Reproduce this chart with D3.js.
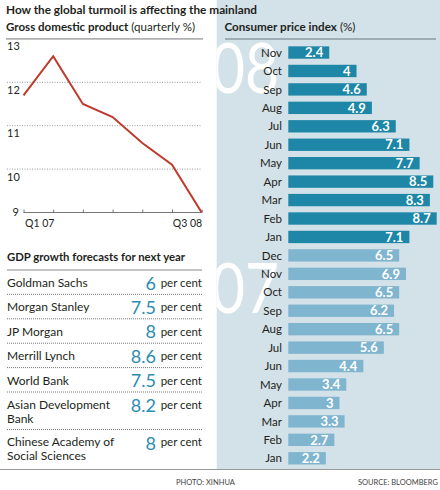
<!DOCTYPE html>
<html><head><meta charset="utf-8">
<script src="https://cdn.jsdelivr.net/npm/d3@7"></script>
<style>
html,body{margin:0;padding:0;background:#fff;}
svg{display:block;font-family:Lato,"Open Sans",sans-serif;}
</style></head>
<body>
<div id="chart"></div>
<script>
// ---------------- DATA ----------------
const gdpQuarters = ["Q1 07","Q2 07","Q3 07","Q4 07","Q1 08","Q2 08","Q3 08"];
const gdpValues   = [11.7, 12.6, 11.5, 11.2, 10.6, 10.1, 9.0];
const gdpTicks    = [9, 10, 11, 12, 13];
const gdpShownQuarterLabels = ["Q1 07","Q3 08"];

const forecastInstitutions = [["Goldman Sachs"],["Morgan Stanley"],["JP Morgan"],["Merrill Lynch"],["World Bank"],["Asian Development","Bank"],["Chinese Academy of","Social Sciences"]];
const forecastValues = [6, 7.5, 8, 8.6, 7.5, 8.2, 8];
const forecastUnit = "per cent";

const cpiMonths = ["Nov","Oct","Sep","Aug","Jul","Jun","May","Apr","Mar","Feb","Jan",
                   "Dec","Nov","Oct","Sep","Aug","Jul","Jun","May","Apr","Mar","Feb","Jan"];
const cpiYears  = ["08","08","08","08","08","08","08","08","08","08","08",
                   "07","07","07","07","07","07","07","07","07","07","07","07"];
const cpiValues = [2.4,4,4.6,4.9,6.3,7.1,7.7,8.5,8.3,8.7,7.1,
                   6.5,6.9,6.5,6.2,6.5,5.6,4.4,3.4,3,3.3,2.7,2.2];

const titleText = "How the global turmoil is affecting the mainland";
const footerLeft = "PHOTO: XINHUA";
const footerRight = "SOURCE: BLOOMBERG";

// ---------------- LAYOUT ----------------
const W = 440, H = 490;
const panelX = 216.7, panelBottom = 469;
const col = {text:"#231f20", grid:"#9a9a9a", panel:"#d3e1e9", dark:"#1e87a7", light:"#80b5d0", red:"#be3a2c", num:"#2a8db0"};

const svg = d3.select("#chart").append("svg").attr("width", W).attr("height", H);

// right panel background
svg.append("rect").attr("x", panelX).attr("y", 0).attr("width", W - panelX).attr("height", panelBottom).attr("fill", col.panel);
svg.append("clipPath").attr("id","pclip").append("rect").attr("x", panelX).attr("y", 0).attr("width", W - panelX).attr("height", panelBottom);

function fitText(sel, w){ // keep measured widths close to reference
  const n = sel.node(); const l = n.getComputedTextLength();
  if (Math.abs(l - w) > 2) sel.attr("textLength", w).attr("lengthAdjust", "spacingAndGlyphs");
}

// title
fitText(svg.append("text").attr("x", 6).attr("y", 13.5).attr("font-size", 12).attr("font-weight", 700).attr("fill", col.text).text(titleText), 251);

// ---------- left: GDP line chart ----------
const sub1 = svg.append("text").attr("x", 6).attr("y", 30.5).attr("font-size", 12).attr("fill", col.text);
sub1.append("tspan").attr("font-weight", 700).text("Gross domestic product");
sub1.append("tspan").text(" (quarterly %)");
fitText(sub1, 189);

const gx = d3.scalePoint().domain(gdpQuarters).range([23.5, 201.7]);
const gy = d3.scaleLinear().domain([9, 13]).range([212.5, 38.9]);

// gridlines
gdpTicks.filter(t => t > 9 && t < 13).forEach(t => {
  svg.append("line").attr("x1", 7).attr("x2", 202).attr("y1", gy(t)).attr("y2", gy(t))
    .attr("stroke", col.grid).attr("stroke-width", 1).attr("stroke-dasharray", "1,1.5");
});
svg.append("line").attr("x1", 6).attr("x2", 203).attr("y1", gy(13)).attr("y2", gy(13))
  .attr("stroke", "#b0b0b0").attr("stroke-width", 1.6);
gdpTicks.forEach(t => {
  if (t === 9) {
    svg.append("text").attr("x", 12.5).attr("y", gy(t)).attr("dy", "0.35em").attr("font-size", 11).attr("fill", col.text).text(t);
  } else {
    svg.append("text").attr("x", 7).attr("y", gy(t) + 11.5).attr("font-size", 11).attr("fill", col.text).text(t);
  }
});
// x axis
const xAxis = d3.axisTop(gx).tickSize(3).tickFormat("");
const xg = svg.append("g").attr("transform", `translate(0,${gy(9)})`).call(xAxis);
xg.select(".domain").attr("d", `M${gx(gdpQuarters[0])},0H${gx(gdpQuarters[gdpQuarters.length-1])}`).attr("stroke", "#777");
xg.selectAll(".tick line").attr("stroke", "#777");
gdpShownQuarterLabels.forEach((q, i) => {
  svg.append("text").attr("x", i === 0 ? gx(q) + 1.5 : gx(q) + 0.5).attr("y", 226.5)
    .attr("text-anchor", i === 0 ? "start" : "end").attr("font-size", 10.5).attr("fill", col.text).text(q);
});
// line
svg.append("path").datum(gdpValues)
  .attr("d", d3.line().x((d, i) => gx(gdpQuarters[i])).y(d => gy(d)))
  .attr("fill", "none").attr("stroke", col.red).attr("stroke-width", 2).attr("stroke-linejoin", "miter");

// ---------- left: forecast table ----------
svg.append("text").attr("x", 7).attr("y", 260.5).attr("font-size", 12).attr("font-weight", 700).attr("fill", col.text)
  .text("GDP growth forecasts for next year").call(s => fitText(s, 178));
svg.append("line").attr("x1", 7).attr("x2", 202).attr("y1", 270).attr("y2", 270).attr("stroke", "#888").attr("stroke-width", 1);

let rowTop = 270;
forecastInstitutions.forEach((lines, i) => {
  const h = lines.length === 1 ? 24.4 : 37.6;
  const firstBase = rowTop + (lines.length === 1 ? 17 : 16.5);
  lines.forEach((ln, j) => {
    svg.append("text").attr("x", 7).attr("y", firstBase + j * 14).attr("font-size", 12).attr("fill", col.text).text(ln);
  });
  svg.append("text").attr("x", 156).attr("y", firstBase + (lines.length === 1 ? 2.5 : 3.5)).attr("text-anchor", "end")
    .attr("font-size", 18).attr("fill", col.num).text(forecastValues[i]);
  svg.append("text").attr("x", 202).attr("y", firstBase).attr("text-anchor", "end").attr("font-size", 11.5).attr("fill", col.text).text(forecastUnit);
  rowTop += h;
  if (i < forecastInstitutions.length - 1) {
    svg.append("line").attr("x1", 7).attr("x2", 202).attr("y1", rowTop).attr("y2", rowTop)
      .attr("stroke", "#777").attr("stroke-width", 1).attr("stroke-dasharray", "1,1");
  }
});

// ---------- right: CPI bars ----------
const sub2 = svg.append("text").attr("x", 224.5).attr("y", 30.5).attr("font-size", 12).attr("fill", col.text);
sub2.append("tspan").attr("font-weight", 700).text("Consumer price index");
sub2.append("tspan").text(" (%)");
fitText(sub2, 131);
svg.append("line").attr("x1", 225).attr("x2", 436).attr("y1", 39).attr("y2", 39).attr("stroke", "#8d9ba3").attr("stroke-width", 1.5);

const idx = cpiValues.map((d, i) => i);
const by = d3.scaleBand().domain(idx).range([43.3, 467.5]).paddingInner(0.33).paddingOuter(0.165);
const bx = d3.scaleLinear().domain([0, 8.7]).range([288.3, 436.7]);

// watermarks
const wm = svg.append("g").attr("clip-path", "url(#pclip)");
["08","07"].forEach(yr => {
  const ids = idx.filter(i => cpiYears[i] === yr);
  const top = yr === "08" ? by(ids[0]) - 3 : by(ids[1]) - 5;
  wm.append("text").attr("transform", `translate(211,${top + 50}) scale(0.84,1)`)
    .attr("font-size", 70).attr("font-weight", 400).attr("fill", "#fff").attr("font-family", "Lato, sans-serif").text(yr);
});

const bars = svg.append("g");
bars.selectAll("rect").data(idx).join("rect")
  .attr("x", bx(0)).attr("y", i => by(i)).attr("width", i => bx(cpiValues[i]) - bx(0)).attr("height", by.bandwidth())
  .attr("fill", i => cpiYears[i] === "08" ? col.dark : col.light);
bars.selectAll("text.v").data(idx).join("text").attr("class", "v")
  .attr("x", i => bx(cpiValues[i]) - 6).attr("y", i => by(i) + by.bandwidth() / 2).attr("dy", "0.36em")
  .attr("text-anchor", "end").attr("font-size", 13).attr("font-weight", 700).attr("fill", "#fff").text(i => cpiValues[i]);
bars.selectAll("text.m").data(idx).join("text").attr("class", "m")
  .attr("x", 282).attr("y", i => by(i) + by.bandwidth() / 2).attr("dy", "0.36em")
  .attr("text-anchor", "end").attr("font-size", 11.5).attr("fill", col.text).text(i => cpiMonths[i]);

// ---------- footer ----------
svg.append("line").attr("x1", 0).attr("x2", W).attr("y1", panelBottom + 0.5).attr("y2", panelBottom + 0.5).attr("stroke", "#999").attr("stroke-width", 1);
svg.append("text").attr("x", 176).attr("y", 485).attr("font-size", 7.5).attr("fill", "#444").text(footerLeft);
svg.append("text").attr("x", 438).attr("y", 485).attr("text-anchor", "end").attr("font-size", 7.5).attr("fill", "#444").text(footerRight);
</script>
</body></html>
